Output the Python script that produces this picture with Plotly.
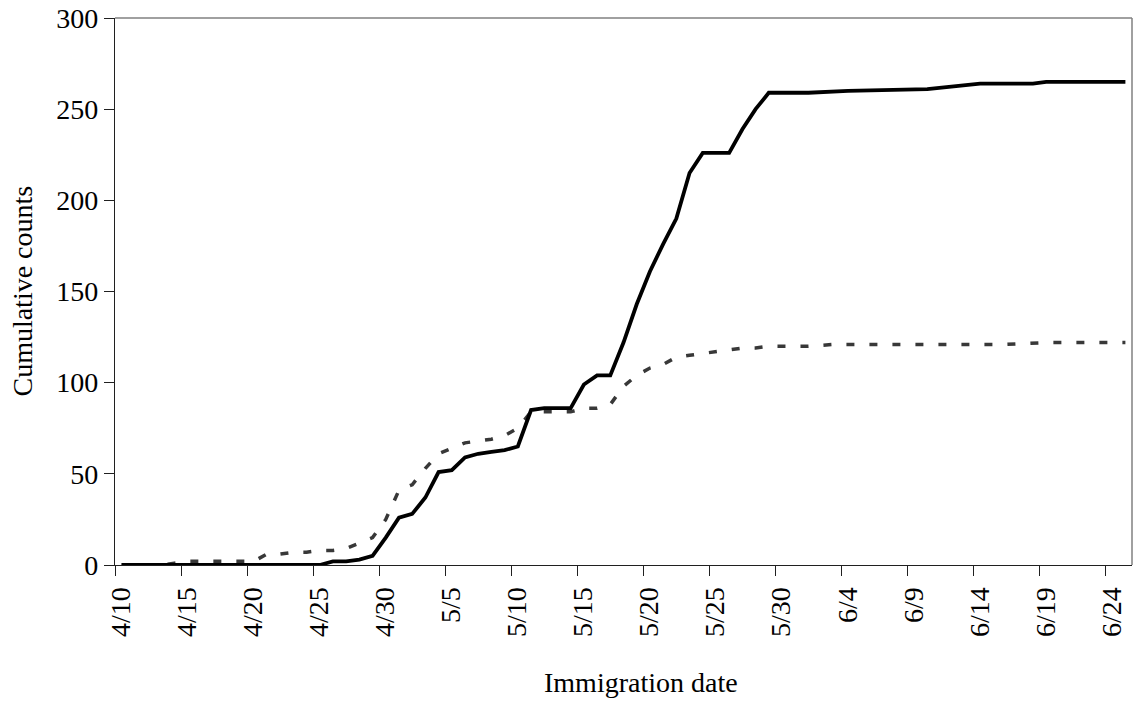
import plotly.graph_objects as go
import pandas as pd

YEAR = 2000

# Solid series (black): dates (M/D) and cumulative counts
solid_dates = ["4/10", "4/11", "4/12", "4/13", "4/14", "4/15", "4/16", "4/17", "4/18", "4/19",
               "4/20", "4/21", "4/22", "4/23", "4/24", "4/25", "4/26", "4/27", "4/28", "4/29",
               "4/30", "5/1", "5/2", "5/3", "5/4", "5/5", "5/6", "5/7", "5/8", "5/9",
               "5/10", "5/11", "5/12", "5/13", "5/14", "5/15", "5/16", "5/17", "5/18", "5/19",
               "5/20", "5/21", "5/22", "5/23", "5/24", "5/25", "5/26", "5/27", "5/28", "5/29",
               "5/30", "5/31", "6/1", "6/4", "6/10", "6/14", "6/18", "6/19", "6/25"]
solid_vals = [0, 0, 0, 0, 0, 0, 0, 0, 0, 0,
              0, 0, 0, 0, 0, 0, 2, 2, 3, 5,
              15, 26, 28, 37, 51, 52, 59, 61, 62, 63,
              65, 85, 86, 86, 86, 99, 104, 104, 122, 143,
              161, 176, 190, 215, 226, 226, 226, 239, 250, 259,
              259, 259, 259, 260, 261, 264, 264, 265, 265]

# Dashed series (dark grey)
dash_dates = ["4/10", "4/11", "4/12", "4/13", "4/14", "4/15", "4/16", "4/17", "4/18", "4/19",
              "4/20", "4/21", "4/22", "4/23", "4/24", "4/25", "4/26", "4/27", "4/28", "4/29",
              "4/30", "5/1", "5/2", "5/3", "5/4", "5/5", "5/6", "5/7", "5/8", "5/9",
              "5/10", "5/11", "5/12", "5/13", "5/14", "5/15", "5/16", "5/17", "5/18", "5/19",
              "5/20", "5/21", "5/22", "5/23", "5/24", "5/25", "5/26", "5/27", "5/28", "5/29",
              "5/30", "5/31", "6/1", "6/3", "6/16", "6/19", "6/25"]
dash_vals = [0, 0, 0, 0, 1, 2, 2, 2, 2, 2,
             2, 6, 6, 7, 7, 8, 8, 9, 12, 15,
             25, 41, 44, 53, 61, 64, 67, 68, 69, 71,
             75, 84, 84, 84, 84, 86, 86, 88, 98, 104,
             108, 110, 114, 115, 116, 117, 118, 119, 119, 120,
             120, 120, 120, 121, 121, 122, 122]

# Axis tick labels (every 5 days)
tick_labels = ["4/10", "4/15", "4/20", "4/25", "4/30", "5/5", "5/10", "5/15",
               "5/20", "5/25", "5/30", "6/4", "6/9", "6/14", "6/19", "6/24"]
first_day, last_day = "4/10", "6/25"
y_ticks = [0, 50, 100, 150, 200, 250, 300]


def to_dt(md):
    return pd.to_datetime(f"{YEAR}/{md}", format="%Y/%m/%d")


half = pd.Timedelta(hours=12)
x_range = [to_dt(first_day) - half, to_dt(last_day) + half]
tick_pos = [to_dt(t) - half for t in tick_labels]

FONT = "Liberation Serif"
FS = 28

fig = go.Figure()
fig.add_trace(go.Scatter(x=[to_dt(d) for d in dash_dates], y=dash_vals, mode="lines",
                         line=dict(color="#383838", width=3.5, dash="8px,15px"),
                         showlegend=False, hoverinfo="skip"))
fig.add_trace(go.Scatter(x=[to_dt(d) for d in solid_dates], y=solid_vals, mode="lines",
                         line=dict(color="#000000", width=3.8),
                         showlegend=False, hoverinfo="skip"))

fig.update_layout(
    width=1135, height=702,
    margin=dict(l=115, r=3, t=18, b=137),
    paper_bgcolor="white", plot_bgcolor="white",
    font=dict(family=FONT, size=FS, color="black"),
    xaxis=dict(
        type="date", range=x_range, tickmode="array", tickvals=tick_pos, ticktext=tick_labels,
        tickangle=-90, ticklabelshift=6, ticks="outside", ticklen=10, tickwidth=1,
        tickcolor="#202020", showline=True, linecolor="#202020", linewidth=1.3,
        showgrid=False, zeroline=False, layer="below traces",
        tickfont=dict(family=FONT, size=FS, color="black"),
    ),
    yaxis=dict(
        range=[0, 300], tickmode="array", tickvals=y_ticks, ticks="outside", ticklen=10,
        tickwidth=1, tickcolor="#202020", showline=True, linecolor="#202020", linewidth=1.3,
        showgrid=False, zeroline=False, layer="below traces",
        tickfont=dict(family=FONT, size=FS, color="black"),
    ),
    shapes=[
        dict(type="line", xref="paper", yref="paper", x0=0, x1=1, y0=1, y1=1,
             line=dict(color="#808080", width=1.5)),
        dict(type="line", xref="paper", yref="paper", x0=1, x1=1, y0=0, y1=1,
             line=dict(color="#808080", width=1.5)),
    ],
    annotations=[
        dict(text="Immigration date", xref="paper", yref="paper", x=0.517, y=-0.2157,
             xanchor="center", yanchor="middle", showarrow=False,
             font=dict(family=FONT, size=FS, color="black")),
        dict(text="Cumulative counts", xref="paper", yref="paper", x=-0.0914, y=0.5,
             xanchor="center", yanchor="middle", textangle=-90, showarrow=False,
             font=dict(family=FONT, size=FS, color="black")),
    ],
)

fig.write_html("out.html")
